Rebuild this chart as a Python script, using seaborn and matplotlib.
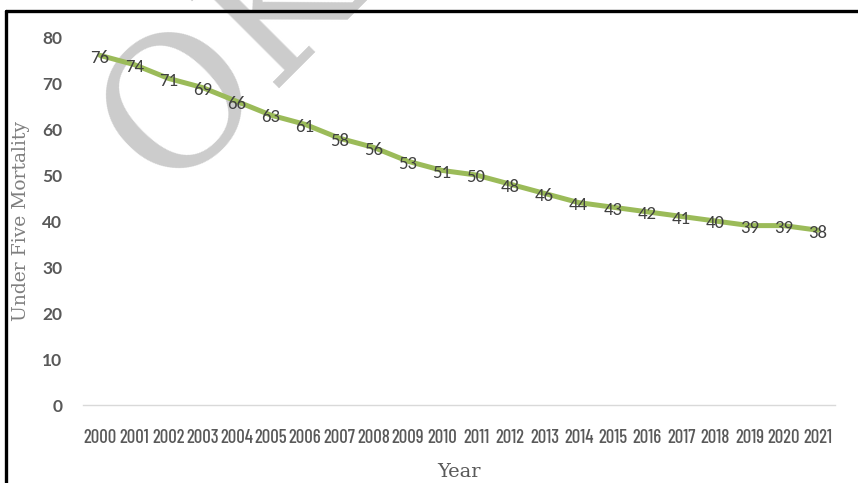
import matplotlib
matplotlib.use("Agg")
import matplotlib.pyplot as plt
from matplotlib.lines import Line2D
import seaborn as sns
import pandas as pd

# Under-five mortality by year
years = list(range(2000, 2022))
mortality = [76, 74, 71, 69, 66, 63, 61, 58, 56, 53, 51, 50,
             48, 46, 44, 43, 42, 41, 40, 39, 39, 38]
y_ticks = [0, 10, 20, 30, 40, 50, 60, 70, 80]

df = pd.DataFrame({"Year": years, "Mortality": mortality})

sns.set_theme(style="white")
condensed = ["Barlow Condensed", "DejaVu Sans"]
label_font = ["Carlito", "DejaVu Sans"]
tick_font = ["Lato", "DejaVu Sans"]
serif = ["DejaVu Serif"]

fig = plt.figure(figsize=(8.58, 4.83), dpi=100)
ax = fig.add_axes([83 / 858, 1 - 405 / 483, 752 / 858, 368 / 483])
ax.set_facecolor("none")

# faint watermark behind the series
ax.text(166 / 858, 1 - 192 / 483, "OK", transform=fig.transFigure,
        fontsize=130, family="DejaVu Serif", color="#cccccc",
        rotation=45, rotation_mode="anchor", ha="left", va="baseline",
        zorder=0.5, clip_on=False)

sns.lineplot(data=df, x="Year", y="Mortality", ax=ax, color="#9bbb59",
             linewidth=3.6, zorder=2, solid_capstyle="round")

for yr, val in zip(years, mortality):
    ax.text(yr, val - 0.5, str(val), ha="center", va="center",
            fontsize=13.5, family=label_font, color="#404040", zorder=3)

ax.set_xlim(years[0] - 0.5, years[-1] + 0.5)
ax.set_ylim(0, 80)
ax.set_xticks(years)
ax.set_xticklabels([str(y) for y in years], family=condensed, fontsize=13.5,
                   color="#595959", fontweight="medium")
ax.set_yticks(y_ticks)
ax.set_yticklabels([str(v) for v in y_ticks], family=tick_font,
                   fontsize=12.5, color="#595959", fontweight="bold")
ax.tick_params(axis="x", length=0, pad=17)
ax.tick_params(axis="y", length=0, pad=15)
ax.set_xlabel("")
ax.set_ylabel("")
for side in ("top", "right", "left"):
    ax.spines[side].set_visible(False)
ax.spines["bottom"].set_color("#d9d9d9")
ax.spines["bottom"].set_linewidth(1.0)
ax.grid(False)

fig.text(21 / 858, 1 - 221 / 483, "Under Five Mortality", rotation=90,
         ha="center", va="center", family=serif, fontweight="light",
         fontsize=13.5, color="#7f7f7f")
fig.text(459 / 858, 1 - 472 / 483, "Year", ha="center", va="center",
         family=serif, fontweight="light", fontsize=14, color="#595959")

# black frame on the top and left edges
fig.add_artist(Line2D([6 / 858, 1], [1 - 11 / 483, 1 - 11 / 483],
                      transform=fig.transFigure, color="black", linewidth=2.4))
fig.add_artist(Line2D([6 / 858, 6 / 858], [0, 1 - 11 / 483],
                      transform=fig.transFigure, color="black", linewidth=2.4))

fig.savefig("out.png", dpi=100)
